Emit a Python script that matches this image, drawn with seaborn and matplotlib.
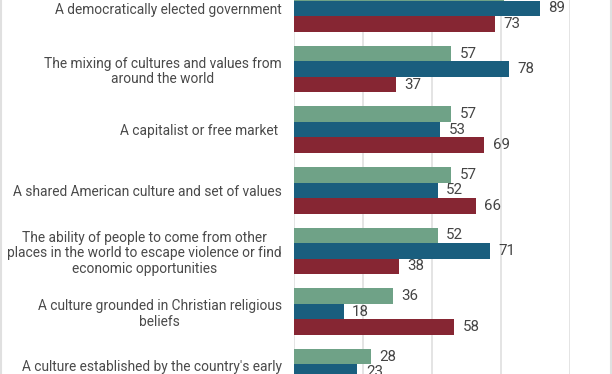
import pandas as pd
import numpy as np
import matplotlib.pyplot as plt
import seaborn as sns
from matplotlib.lines import Line2D

# categories (top to bottom) and the three series
categories = [
    "A democratically elected government",
    "The mixing of cultures and values from\naround the world",
    "A capitalist or free market ",
    "A shared American culture and set of values",
    "The ability of people to come from other\nplaces in the world to escape violence or find\neconomic opportunities",
    "A culture grounded in Christian religious\nbeliefs",
    "A culture established by the country's early\nEuropean immigrants",
]
series = ["All adults", "Democrats", "Republicans"]
all_adults = [76, 57, 57, 57, 52, 36, 28]
democrats = [89, 78, 53, 52, 71, 18, 23]
republicans = [73, 37, 69, 66, 38, 58, 35]
colors = ["#6fa287", "#1a5e7e", "#862633"]

df = pd.DataFrame({
    "category": categories * 3,
    "group": np.repeat(series, len(categories)),
    "value": all_adults + democrats + republicans,
})

sns.set_theme(style="white")
plt.rcParams["font.family"] = ["Roboto", "DejaVu Sans"]

W, H = 612, 374
fig = plt.figure(figsize=(W / 100, H / 100), dpi=100)
x0, x1 = 294, 570
ax = fig.add_axes([x0 / W, 0, (x1 - x0) / W, 1])

sns.barplot(data=df, x="value", y="category", hue="group", order=categories,
            hue_order=series, palette=colors, width=0.77, orient="h",
            saturation=1, edgecolor="none", legend=False, ax=ax)

for cont in ax.containers:
    ax.bar_label(cont, padding=6, fontsize=10.8, color="#444444", clip_on=False)

# axis cropped like the reference: row 0 centre ~8.5px from top, pitch ~60.6px
pitch = 60.6
ax.set_ylim(6 + (H - (8.5 + 6 * pitch)) / pitch, -8.5 / pitch)
ax.set_xlim(0, 100)
ax.set_xticks([0, 25, 50, 75, 100])
ax.grid(axis="x", color="#e4e4e4", linewidth=1.4)
ax.set_axisbelow(True)
ax.tick_params(axis="x", labelbottom=False, length=0)
ax.tick_params(axis="y", length=0, pad=9)
ax.set_yticks(range(len(categories)))
ax.set_yticklabels(categories, fontsize=9.9, color="#4a4a4a",
                   multialignment="center", linespacing=1.15)
ax.set_xlabel("")
ax.set_ylabel("")
for s in ax.spines.values():
    s.set_visible(False)

# thin frame lines at the left and right edges of the crop
fig.add_artist(Line2D([0.5 / W, 0.5 / W], [0, 1], color="#e0e0e0", lw=1.5))
fig.add_artist(Line2D([1 - 0.8 / W, 1 - 0.8 / W], [0, 1], color="#e0e0e0", lw=1.5))

fig.savefig("out.png", dpi=100)
